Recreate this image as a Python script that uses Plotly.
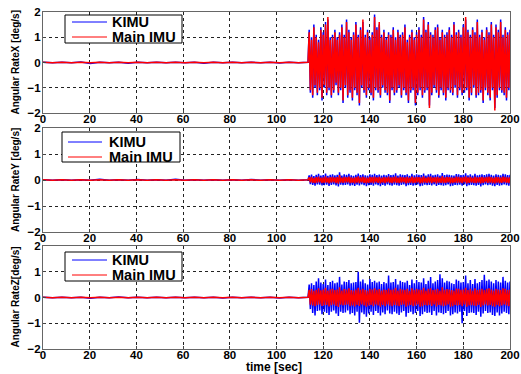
import numpy as np
import plotly.graph_objects as go

# ---------------- data ----------------
t_quiet = np.linspace(0, 113.5, 29)     # stationary phase (29 samples)
t_active = np.arange(114, 200.25, 0.5)  # 114 .. 200 s (173 samples, vibration phase)

x_kimu_quiet = [0.01,-0.01,0.01,-0.01,0.02,-0.04,0.01,-0.01,0.01,-0.03,0.01,-0.01,0.01,-0.01,0.01,
                -0.01,0.01,-0.03,0.01,-0.01,0.01,-0.01,0.01,-0.01,0.01,-0.02,0.01,-0.01,0.01]
x_main_quiet = [0.005,-0.005,0.005,-0.005,0.005,-0.005,0.005,-0.005,0.005,-0.005,0.005,-0.005,0.005,-0.005,0.005,
                -0.005,0.005,-0.005,0.005,-0.005,0.005,-0.005,0.005,-0.005,0.005,-0.005,0.005,-0.005,0.005]
y_kimu_quiet = [0.01,-0.01,0.01,-0.01,0.01,-0.01,0.03,-0.01,0.01,-0.01,0.02,-0.01,0.01,-0.01,0.03,
                -0.01,0.01,-0.01,0.01,-0.01,0.01,-0.01,0.02,-0.01,0.01,-0.01,0.01,-0.01,0.01]
y_main_quiet = [0.005,-0.005,0.005,-0.005,0.005,-0.005,0.005,-0.005,0.005,-0.005,0.005,-0.005,0.005,-0.005,0.005,
                -0.005,0.005,-0.005,0.005,-0.005,0.005,-0.005,0.005,-0.005,0.005,-0.005,0.005,-0.005,0.005]
z_kimu_quiet = [0.01,-0.01,0.01,-0.01,0.01,-0.03,0.01,-0.01,0.02,-0.01,0.01,-0.01,0.01,-0.01,0.01,
                -0.01,0.01,-0.01,0.01,-0.02,0.01,-0.01,0.01,-0.01,0.01,-0.02,0.01,-0.01,0.01]
z_main_quiet = [0.005,-0.005,0.005,-0.005,0.005,-0.005,0.005,-0.005,0.005,-0.005,0.005,-0.005,0.005,-0.005,0.005,
                -0.005,0.005,-0.005,0.005,-0.005,0.005,-0.005,0.005,-0.005,0.005,-0.005,0.005,-0.005,0.005]

x_kimu_active = [
    1.3,-1.2,1.0,-1.4,1.5,-1.0,1.1,-1.3,0.9,-1.1,
    1.4,-1.5,1.2,-1.0,1.6,-1.3,1.7,-1.1,1.0,-1.4,
    1.1,-1.2,1.3,-0.9,1.0,-1.3,1.2,-1.1,1.5,-1.6,
    1.1,-1.0,1.7,-1.4,1.3,-1.2,1.0,-1.5,1.2,-1.1,
    1.6,-1.3,1.1,-1.7,1.4,-1.0,1.6,-1.2,1.1,-1.4,
    1.3,-1.1,1.0,-1.3,1.2,-1.5,1.9,-1.1,1.4,-1.2,
    1.5,-1.4,1.1,-1.0,1.3,-1.2,1.0,-1.3,1.2,-1.6,
    1.1,-1.1,1.4,-1.3,1.0,-1.2,1.3,-1.0,1.1,-1.4,
    1.2,-1.1,1.5,-1.3,0.9,-1.6,1.1,-1.2,1.3,-1.1,
    1.0,-1.7,1.2,-1.3,1.4,-1.1,1.1,-1.4,1.8,-1.2,
    1.3,-1.1,1.6,-1.7,1.2,-1.3,1.1,-1.0,1.4,-1.2,
    1.5,-1.4,1.0,-1.1,1.3,-1.3,1.1,-1.5,1.2,-1.1,
    1.4,-1.2,1.1,-1.3,1.6,-1.0,1.2,-1.4,1.3,-1.1,
    1.1,-1.3,1.5,-1.2,1.7,-1.1,1.3,-1.5,1.1,-1.3,
    1.4,-1.0,1.2,-1.4,1.7,-1.3,1.1,-1.2,1.3,-1.6,
    1.0,-1.1,1.4,-1.3,1.2,-1.5,1.6,-1.1,1.1,-1.8,
    1.5,-1.4,1.3,-1.1,1.7,-1.2,1.1,-1.3,1.4,-1.5,
    1.2,-1.1,1.3]
x_main_active = [
    1.2,-1.1,0.9,-1.3,1.4,-0.9,1.0,-1.2,0.8,-1.0,
    1.3,-1.4,1.1,-0.9,1.5,-1.2,1.8,-1.0,0.9,-1.3,
    1.0,-1.1,1.2,-0.8,0.9,-1.2,1.1,-1.0,1.4,-1.5,
    1.0,-0.9,1.6,-1.3,1.2,-1.1,0.9,-1.4,1.1,-1.0,
    1.5,-1.2,1.0,-1.6,1.3,-0.9,1.7,-1.1,1.0,-1.3,
    1.2,-1.0,0.9,-1.2,1.1,-1.4,1.8,-1.0,1.3,-1.1,
    1.6,-1.3,1.0,-0.9,1.2,-1.1,0.9,-1.2,1.1,-1.5,
    1.0,-1.0,1.3,-1.2,0.9,-1.1,1.2,-0.9,1.0,-1.3,
    1.1,-1.0,1.4,-1.2,0.8,-1.5,1.0,-1.1,1.2,-1.0,
    0.9,-1.6,1.1,-1.2,1.3,-1.0,1.0,-1.3,1.7,-1.1,
    1.2,-1.0,1.5,-1.8,1.1,-1.2,1.0,-0.9,1.3,-1.1,
    1.4,-1.3,0.9,-1.0,1.2,-1.2,1.0,-1.4,1.1,-1.0,
    1.3,-1.1,1.0,-1.2,1.5,-0.9,1.1,-1.3,1.2,-1.0,
    1.0,-1.2,1.4,-1.1,1.8,-1.0,1.2,-1.4,1.0,-1.2,
    1.3,-0.9,1.1,-1.3,1.6,-1.2,1.0,-1.1,1.2,-1.5,
    0.9,-1.0,1.3,-1.2,1.1,-1.4,1.5,-1.0,1.0,-1.9,
    1.4,-1.3,1.2,-1.0,1.6,-1.1,1.0,-1.2,1.3,-1.4,
    1.1,-1.0,1.2]

y_kimu_active = [
    0.18,-0.16,0.21,-0.19,0.15,-0.22,0.20,-0.17,0.24,-0.18,
    0.17,-0.21,0.19,-0.20,0.25,-0.18,0.16,-0.23,0.20,-0.19,
    0.22,-0.17,0.18,-0.21,0.20,-0.25,0.30,-0.18,0.17,-0.20,
    0.22,-0.19,0.20,-0.17,0.24,-0.22,0.18,-0.20,0.16,-0.23,
    0.20,-0.18,0.25,-0.21,0.19,-0.17,0.22,-0.20,0.18,-0.24,
    0.17,-0.20,0.22,-0.19,0.20,-0.22,0.24,-0.17,0.19,-0.20,
    0.21,-0.24,0.17,-0.19,0.20,-0.22,0.18,-0.17,0.23,-0.20,
    0.19,-0.22,0.20,-0.18,0.26,-0.20,0.17,-0.22,0.22,-0.19,
    0.20,-0.17,0.19,-0.24,0.22,-0.20,0.16,-0.19,0.24,-0.22,
    0.18,-0.20,0.22,-0.17,0.20,-0.24,0.19,-0.22,0.25,-0.18,
    0.17,-0.20,0.22,-0.19,0.24,-0.21,0.18,-0.17,0.20,-0.23,
    0.22,-0.19,0.17,-0.20,0.27,-0.22,0.19,-0.20,0.21,-0.17,
    0.20,-0.24,0.18,-0.22,0.17,-0.19,0.23,-0.20,0.22,-0.18,
    0.19,-0.22,0.20,-0.17,0.26,-0.24,0.18,-0.20,0.22,-0.19,
    0.17,-0.20,0.24,-0.22,0.18,-0.19,0.20,-0.25,0.22,-0.20,
    0.19,-0.17,0.22,-0.20,0.24,-0.18,0.20,-0.22,0.17,-0.24,
    0.22,-0.19,0.20,-0.22,0.18,-0.20,0.24,-0.17,0.22,-0.20,
    0.19,-0.22,0.20]
y_main_active = [
    0.10,-0.09,0.12,-0.11,0.08,-0.12,0.11,-0.10,0.13,-0.09,
    0.09,-0.12,0.10,-0.11,0.14,-0.10,0.09,-0.13,0.11,-0.10,
    0.12,-0.09,0.10,-0.12,0.11,-0.14,0.19,-0.10,0.09,-0.11,
    0.12,-0.10,0.11,-0.09,0.13,-0.12,0.10,-0.11,0.09,-0.13,
    0.11,-0.10,0.14,-0.12,0.10,-0.09,0.12,-0.11,0.10,-0.13,
    0.09,-0.11,0.12,-0.10,0.11,-0.12,0.13,-0.09,0.10,-0.11,
    0.12,-0.13,0.09,-0.10,0.11,-0.12,0.10,-0.09,0.13,-0.11,
    0.10,-0.12,0.11,-0.10,0.14,-0.11,0.09,-0.12,0.12,-0.10,
    0.11,-0.09,0.10,-0.13,0.12,-0.11,0.09,-0.10,0.13,-0.12,
    0.10,-0.11,0.12,-0.09,0.11,-0.13,0.10,-0.12,0.14,-0.10,
    0.09,-0.11,0.12,-0.10,0.13,-0.12,0.10,-0.09,0.11,-0.13,
    0.12,-0.10,0.09,-0.11,0.15,-0.12,0.10,-0.11,0.12,-0.09,
    0.11,-0.13,0.10,-0.12,0.09,-0.10,0.13,-0.11,0.12,-0.10,
    0.10,-0.12,0.11,-0.09,0.14,-0.13,0.10,-0.11,0.12,-0.10,
    0.09,-0.11,0.13,-0.12,0.10,-0.10,0.11,-0.13,0.12,-0.11,
    0.10,-0.09,0.12,-0.11,0.13,-0.10,0.11,-0.12,0.09,-0.13,
    0.12,-0.10,0.11,-0.12,0.10,-0.11,0.13,-0.09,0.12,-0.11,
    0.10,-0.12,0.11]

z_kimu_active = [
    0.50,-0.45,0.55,-0.60,0.48,-0.70,0.62,-0.52,0.75,-0.50,
    0.58,-0.65,0.52,-0.55,0.70,-0.60,0.48,-0.68,0.60,-0.55,
    0.65,-0.50,0.55,-0.62,0.58,-0.72,0.80,-0.55,0.50,-0.60,
    0.62,-0.58,0.60,-0.50,0.68,-0.65,0.55,-0.60,0.58,-0.70,
    0.60,-0.55,1.00,-0.98,0.62,-0.58,0.70,-0.65,0.55,-0.75,
    0.50,-0.62,0.72,-0.55,0.60,-0.68,0.65,-0.52,0.58,-0.60,
    0.62,-0.70,0.52,-0.58,0.60,-0.65,0.55,-0.50,0.85,-0.62,
    0.58,-0.65,0.60,-0.55,0.72,-0.62,0.50,-0.68,0.65,-0.58,
    0.60,-0.52,0.58,-0.75,0.65,-0.60,0.48,-0.55,0.70,-0.65,
    0.55,-0.60,0.68,-0.52,0.60,-0.72,0.58,-0.65,0.75,-0.55,
    0.52,-0.60,0.65,-0.58,0.80,-0.68,0.55,-0.52,0.62,-0.70,
    0.68,-0.58,0.90,-0.60,0.75,-0.65,0.58,-0.60,0.65,-0.52,
    0.62,-0.70,0.55,-0.65,0.52,-0.58,0.70,-0.62,0.65,-0.55,
    0.58,-1.00,0.60,-0.52,0.85,-0.72,0.55,-0.60,0.68,-0.58,
    0.52,-0.60,0.72,-0.68,0.55,-0.55,0.60,-0.75,0.68,-0.62,
    0.88,-0.52,0.65,-0.60,0.70,-0.58,0.62,-0.68,0.55,-0.72,
    0.68,-0.58,0.62,-0.70,0.58,-0.62,0.80,-0.55,0.65,-0.60,
    0.58,-0.65,0.62]
z_main_active = [
    0.30,-0.28,0.33,-0.31,0.26,-0.34,0.30,-0.29,0.36,-0.27,
    0.28,-0.33,0.31,-0.30,0.38,-0.29,0.27,-0.35,0.32,-0.30,
    0.34,-0.27,0.29,-0.33,0.31,-0.37,0.40,-0.28,0.27,-0.31,
    0.33,-0.29,0.31,-0.27,0.36,-0.34,0.29,-0.31,0.27,-0.35,
    0.31,-0.29,0.38,-0.33,0.30,-0.27,0.34,-0.31,0.29,-0.36,
    0.27,-0.31,0.34,-0.29,0.31,-0.34,0.36,-0.27,0.30,-0.31,
    0.33,-0.36,0.27,-0.29,0.31,-0.34,0.29,-0.27,0.35,-0.31,
    0.30,-0.34,0.31,-0.29,0.38,-0.31,0.27,-0.34,0.34,-0.29,
    0.31,-0.27,0.30,-0.36,0.34,-0.31,0.26,-0.29,0.36,-0.34,
    0.29,-0.31,0.34,-0.27,0.31,-0.36,0.30,-0.34,0.38,-0.29,
    0.27,-0.31,0.34,-0.29,0.36,-0.33,0.29,-0.27,0.31,-0.35,
    0.34,-0.29,0.27,-0.31,0.40,-0.34,0.30,-0.31,0.33,-0.27,
    0.31,-0.36,0.29,-0.34,0.27,-0.29,0.35,-0.31,0.34,-0.29,
    0.30,-0.34,0.31,-0.27,0.38,-0.36,0.29,-0.31,0.34,-0.30,
    0.27,-0.31,0.36,-0.34,0.29,-0.29,0.31,-0.37,0.34,-0.31,
    0.29,-0.27,0.34,-0.31,0.36,-0.29,0.31,-0.34,0.27,-0.36,
    0.34,-0.29,0.31,-0.34,0.29,-0.31,0.36,-0.27,0.34,-0.31,
    0.29,-0.34,0.31]

series_names = ["KIMU", "Main IMU"]
y_titles = ["Angular RateX [deg/s]", "Angular RateY [deg/s]", "Angular RateZ[deg/s]"]
x_title = "time [sec]"
x_ticks = [0, 20, 40, 60, 80, 100, 120, 140, 160, 180, 200]
y_ticks = [-2, -1, 0, 1, 2]

# ---------------- figure ----------------
W, H = 521, 374
L, R, T, B = 43, 11, 12, 25          # plot area: x 43..510, y 12..349
PW, PH = W - L - R, H - T - B

def px(page_x):
    return (page_x - L) / PW

def py(page_y):
    return (H - B - page_y) / PH

t_all = np.concatenate([t_quiet, t_active])
panels = [
    (x_kimu_quiet + x_kimu_active, x_main_quiet + x_main_active),
    (y_kimu_quiet + y_kimu_active, y_main_quiet + y_main_active),
    (z_kimu_quiet + z_kimu_active, z_main_quiet + z_main_active),
]
colors = ["#0000ff", "#ff0000"]

fig = go.Figure()
for i, (kimu, main) in enumerate(panels):
    ax = "" if i == 0 else str(i + 1)
    for name, vals, col in zip(series_names, (kimu, main), colors):
        fig.add_trace(go.Scatter(
            x=t_all, y=vals, mode="lines", name=name,
            line=dict(color=col, width=1.5, simplify=False),
            xaxis="x" + ax, yaxis="y" + ax, showlegend=False, hoverinfo="skip",
        ))

FONT = "Liberation Sans, Arial, sans-serif"
tickfont = dict(family=FONT, size=11.5, color="black", weight="bold")

panel_px = [(12, 113), (128, 232), (246, 349)]
domains = [[py(b), py(t)] for t, b in panel_px]

layout = dict(
    width=W, height=H,
    margin=dict(l=L, r=R, t=T, b=B),
    paper_bgcolor="white", plot_bgcolor="white",
    showlegend=False,
)
for i in range(3):
    ax = "" if i == 0 else str(i + 1)
    common = dict(
        showgrid=True, gridcolor="#222", griddash="dot", gridwidth=1,
        showline=True, linecolor="#666", linewidth=1, mirror=True,
        ticks="inside", ticklen=3, tickcolor="#444",
        tickfont=tickfont, zeroline=False, automargin=False,
    )
    layout["xaxis" + ax] = dict(domain=[0, 1], range=[0, 200], tickvals=x_ticks,
                                anchor="y" + ax, ticklabelstandoff=-5, **common)
    layout["yaxis" + ax] = dict(domain=domains[i], range=[-2, 2], tickvals=y_ticks,
                                anchor="x" + ax, ticklabelstandoff=-1, **common)

legends = [
    dict(box=(65, 15, 182, 43), line=(72, 107), rows=(22, 37), tx=110),
    dict(box=(62, 132, 180, 162), line=(68, 102), rows=(142, 157), tx=107),
    dict(box=(65, 252, 182, 281), line=(72, 107), rows=(260, 275), tx=110),
]
shapes = []
annotations = []
legfont = dict(family=FONT, size=14.5, color="black", weight="bold")
for lg in legends:
    x0, y0, x1, y1 = lg["box"]
    shapes.append(dict(type="rect", xref="paper", yref="paper",
                       x0=px(x0), x1=px(x1), y0=py(y1), y1=py(y0),
                       line=dict(color="black", width=1), fillcolor="white", layer="above"))
    for name, col, ry in zip(series_names, colors, lg["rows"]):
        shapes.append(dict(type="line", xref="paper", yref="paper",
                           x0=px(lg["line"][0]), x1=px(lg["line"][1]), y0=py(ry), y1=py(ry),
                           line=dict(color=col, width=1), layer="above"))
        annotations.append(dict(text=name, xref="paper", yref="paper", x=px(lg["tx"]), y=py(ry),
                                xanchor="left", yanchor="middle", showarrow=False, font=legfont))

for ttl, (t, b) in zip(y_titles, panel_px):
    annotations.append(dict(
        text=ttl, xref="paper", yref="paper", x=px(15), y=py((t + b) / 2),
        xanchor="center", yanchor="middle", textangle=-90, showarrow=False,
        font=dict(family=FONT, size=10, color="black", weight="bold"),
    ))
annotations.append(dict(
    text=x_title, xref="paper", yref="paper", x=px(274), y=py(367),
    xanchor="center", yanchor="middle", showarrow=False,
    font=dict(family=FONT, size=12, color="black", weight="bold"),
))
layout["annotations"] = annotations
layout["shapes"] = shapes

fig.update_layout(**layout)
# remove the browser's default 8 px body margin so the figure sits at the page origin
fig.write_html("out.html", config={"displayModeBar": False},
               post_script="document.body.style.margin='0';")
